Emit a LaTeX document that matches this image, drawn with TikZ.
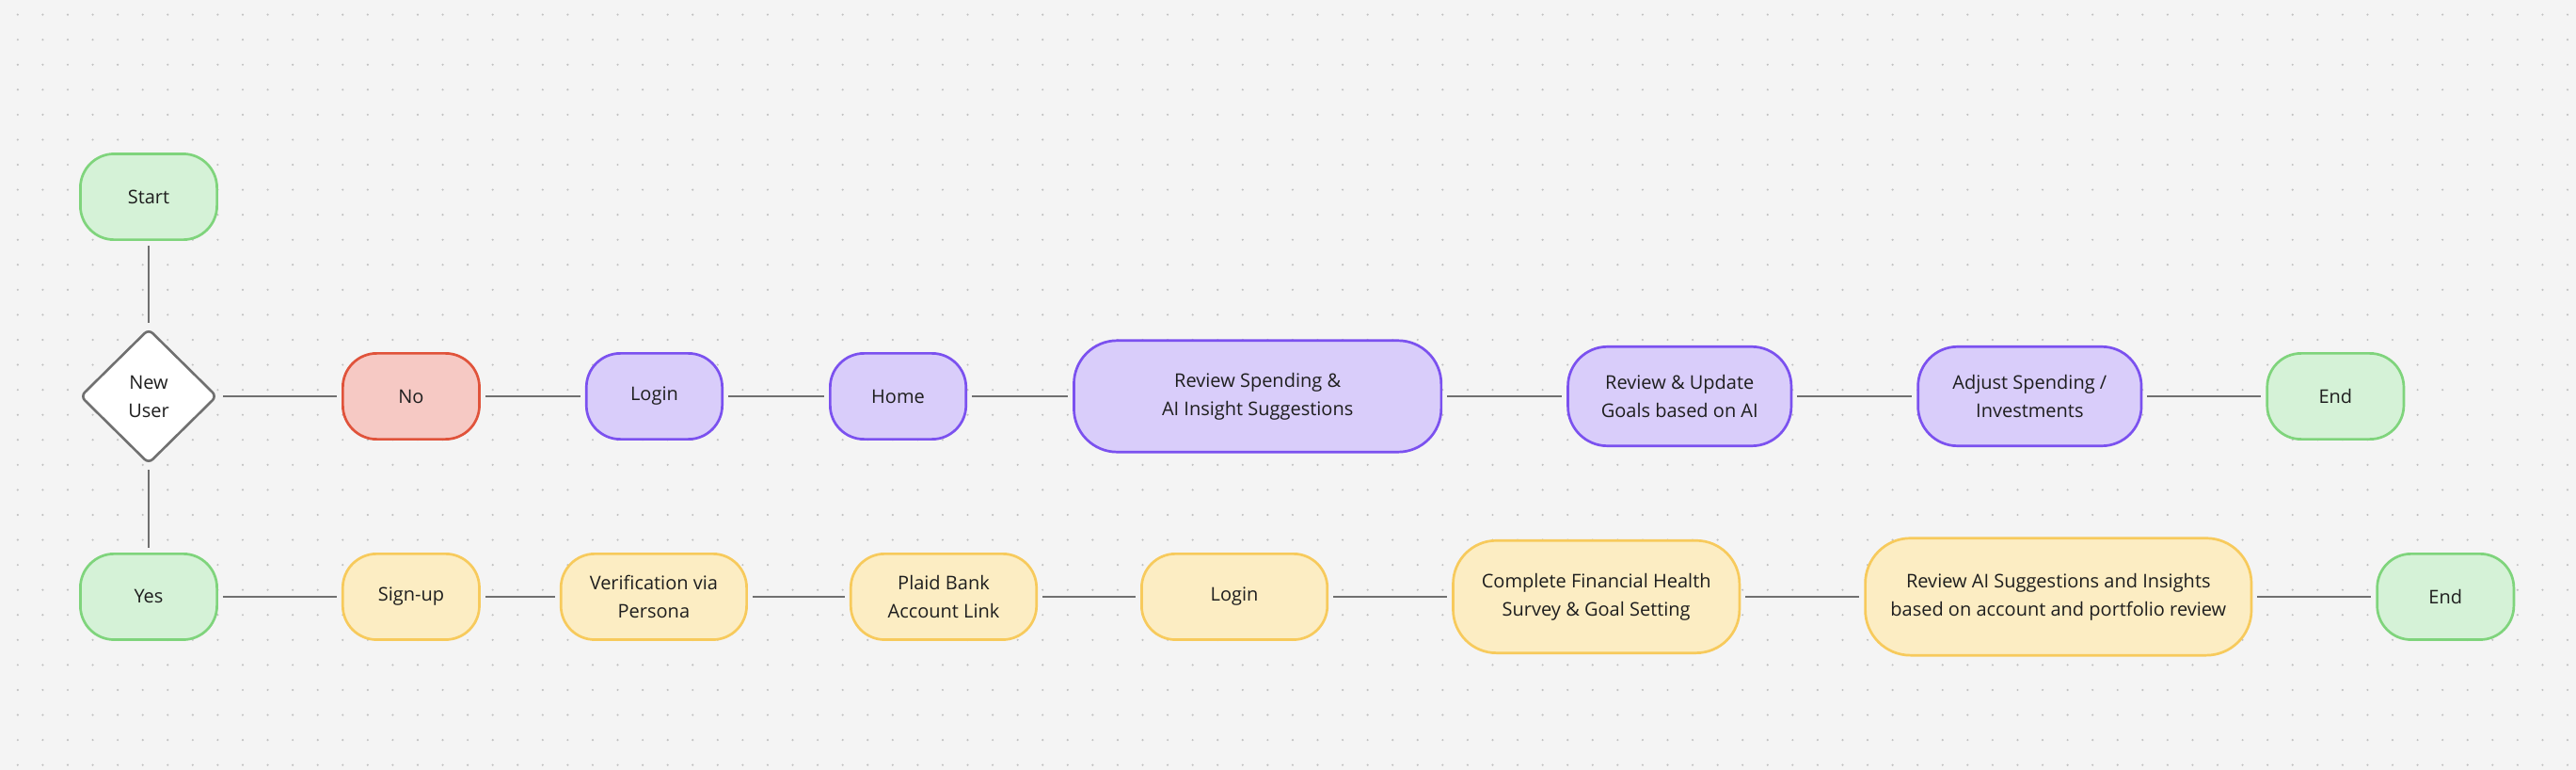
\documentclass[tikz,border=0pt]{standalone}
\usepackage{fontspec}
\setmainfont{Open Sans}
\usepackage{tikz}
\usetikzlibrary{shapes, arrows.meta, positioning}

\definecolor{bgc}{HTML}{F4F4F4}
\definecolor{dotc}{HTML}{C2C2C2}
\definecolor{conn}{HTML}{707070}
\definecolor{txt}{HTML}{1E1E1E}
\definecolor{grfill}{HTML}{D5F2D7}
\definecolor{grline}{HTML}{7FD47C}
\definecolor{rdfill}{HTML}{F6C9C4}
\definecolor{rdline}{HTML}{E0533B}
\definecolor{pufill}{HTML}{D9CDFA}
\definecolor{puline}{HTML}{7B51EF}
\definecolor{yefill}{HTML}{FCEDC3}
\definecolor{yeline}{HTML}{F7CA5C}

\newcommand{\flowfont}{\fontsize{10pt}{15pt}\selectfont}

\tikzstyle{block} = [draw, rectangle, rounded corners=18pt, line width=1.35pt, inner sep=0pt, minimum width=72.6pt, minimum height=45.6pt, align=center, text=txt, font=\flowfont]
\tikzstyle{term} = [block, fill=grfill, draw=grline]
\tikzstyle{neg} = [block, fill=rdfill, draw=rdline]
\tikzstyle{existing} = [block, fill=pufill, draw=puline]
\tikzstyle{onboard} = [block, fill=yefill, draw=yeline]
\tikzstyle{decision} = [draw=conn, fill=white, diamond, rounded corners=3pt, line width=1.3pt, inner sep=0pt, minimum width=72.7pt, minimum height=71.7pt, align=center, text=txt, font=\flowfont]
\tikzstyle{line} = [draw=conn, line width=1.35pt, shorten >=2.5pt, shorten <=2.5pt]

\begin{document}
\begin{tikzpicture}[auto,>=latex]
  % canvas and dot grid
  \fill[bgc] (0,0) rectangle (1369pt,-409pt);
  \useasboundingbox (0,0) rectangle (1369pt,-409pt);
  \foreach \i in {-2,...,100}
    \foreach \j in {-6,...,24}
      \fill[dotc] (36pt+13.285pt*\i, -87.5pt-13.285pt*\j) circle (0.6pt);

  % decision
  \node[decision] (newuser) at (79pt,-210.5pt) {New\\User};
  \node[term, above=46pt of newuser] (start) {Start};
  \node[term, below=46.5pt of newuser] (yes) {Yes};

  % existing user
  \node[neg, right=65.5pt of newuser] (no) {No};
  \node[existing, right=55.5pt of no, minimum width=72.2pt] (login0) {Login};
  \node[existing, right=56pt of login0, minimum width=72.2pt] (home) {Home};
  \node[existing, right=56pt of home, minimum width=195.2pt, minimum height=59.2pt, rounded corners=23pt] (spend) {Review Spending \&\\AI Insight Suggestions};
  \node[existing, right=66pt of spend, minimum width=118.7pt, minimum height=52.7pt, rounded corners=21pt] (goals) {Review \& Update\\Goals based on AI};
  \node[existing, right=66pt of goals, minimum width=118.7pt, minimum height=52.7pt, rounded corners=21pt] (adjust) {Adjust Spending /\\Investments};
  \node[term, right=65.5pt of adjust] (end0) {End};

  % new user
  \node[onboard, right=65.5pt of yes] (signup) {Sign-up};
  \node[onboard, right=42pt of signup, minimum width=98.7pt] (persona) {Verification via\\Persona};
  \node[onboard, right=54pt of persona, minimum width=98.7pt] (plaid) {Plaid Bank\\Account Link};
  \node[onboard, right=54.5pt of plaid, minimum width=98.7pt] (login1) {Login};
  \node[onboard, right=65.5pt of login1, minimum width=152.2pt, minimum height=59.7pt, rounded corners=23pt] (survey) {Complete Financial Health\\Survey \& Goal Setting};
  \node[onboard, right=65.5pt of survey, minimum width=205.2pt, minimum height=62.2pt, rounded corners=24pt] (insights) {Review AI Suggestions and Insights\\based on account and portfolio review};
  \node[term, right=65.5pt of insights] (end1) {End};

  \draw[line] (start) -- (newuser);
  \draw[line] (newuser) -- (yes);
  \draw[line] (newuser) -- (no);
  \draw[line] (no) -- (login0);
  \draw[line] (login0) -- (home);
  \draw[line] (home) -- (spend);
  \draw[line] (spend) -- (goals);
  \draw[line] (goals) -- (adjust);
  \draw[line] (adjust) -- (end0);
  \draw[line] (yes) -- (signup);
  \draw[line] (signup) -- (persona);
  \draw[line] (persona) -- (plaid);
  \draw[line] (plaid) -- (login1);
  \draw[line] (login1) -- (survey);
  \draw[line] (survey) -- (insights);
  \draw[line] (insights) -- (end1);
\end{tikzpicture}
\end{document}
